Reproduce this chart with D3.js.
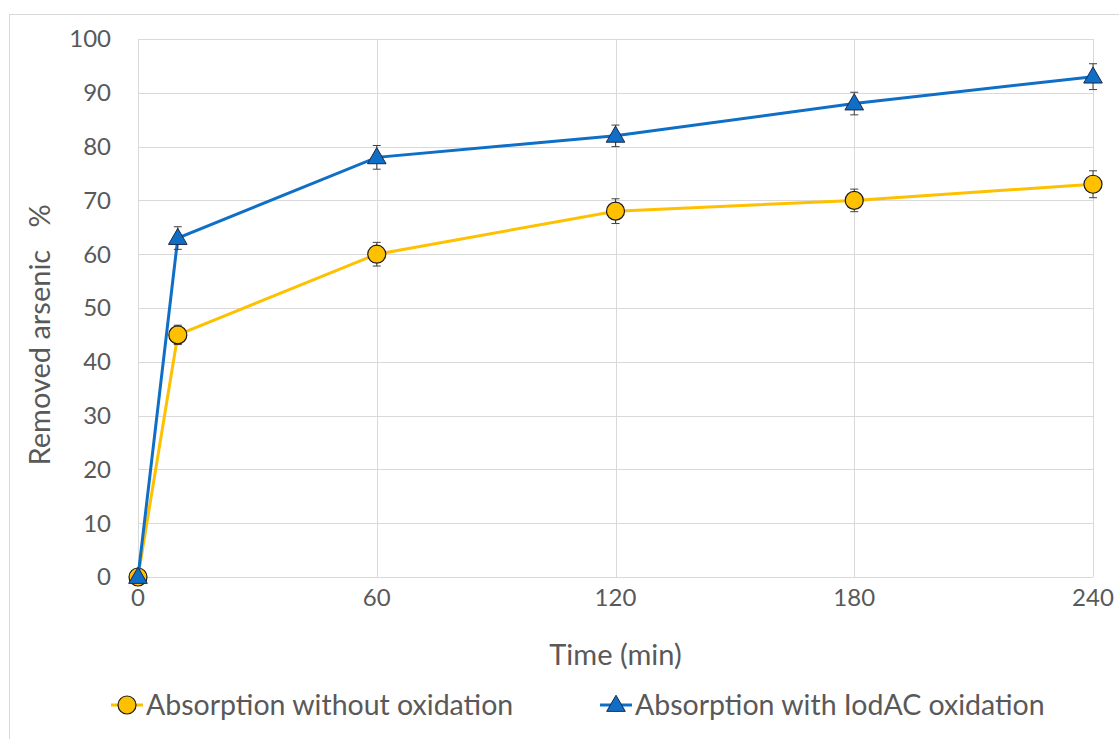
<!DOCTYPE html>
<meta charset="utf-8">
<style>
    body { margin: 0; background: #fff; }
    text { font-family: Lato, "Noto Sans", sans-serif; fill: #595959; }
</style>
<svg width="1119" height="739"></svg>
<script src="https://d3js.org/d3.v7.min.js"></script>
<script>
    // data
    var times = [0, 10, 60, 120, 180, 240];
    var noOxidation = [0, 45, 60, 68, 70, 73];
    var noOxidationErr = [0, 1.8, 2.2, 2.3, 2.1, 2.5];
    var withOxidation = [0, 63, 78, 82, 88, 93];
    var withOxidationErr = [0, 2.1, 2.2, 2.0, 2.1, 2.4];
    var xTicks = [0, 60, 120, 180, 240];
    var yTicks = [0, 10, 20, 30, 40, 50, 60, 70, 80, 90, 100];

    var svg = d3.select("svg");

    // outer chart frame
    svg.append("rect")
        .attr("x", 9.5).attr("y", 14.5)
        .attr("width", 1130).attr("height", 740)
        .attr("fill", "none").attr("stroke", "#d9d9d9");

    var x = d3.scaleLinear().domain([0, 240]).range([138, 1093]);
    var y = d3.scaleLinear().domain([0, 100]).range([577, 39]);

    // gridlines
    svg.append("g").selectAll("line").data(yTicks).enter().append("line")
        .attr("x1", x(0)).attr("x2", x(240))
        .attr("y1", function(d) { return Math.round(y(d)) + 0.5; })
        .attr("y2", function(d) { return Math.round(y(d)) + 0.5; })
        .attr("stroke", "#d9d9d9").attr("stroke-width", 1);

    svg.append("g").selectAll("line").data(xTicks).enter().append("line")
        .attr("x1", function(d) { return Math.round(x(d)) + 0.5; })
        .attr("x2", function(d) { return Math.round(x(d)) + 0.5; })
        .attr("y1", y(0)).attr("y2", y(100))
        .attr("stroke", "#d9d9d9").attr("stroke-width", 1);

    // tick labels
    svg.append("g").selectAll("text").data(yTicks).enter().append("text")
        .attr("x", 111).attr("y", function(d) { return y(d); })
        .attr("dy", "0.35em")
        .attr("text-anchor", "end")
        .attr("font-size", 24)
        .text(function(d) { return d; });

    svg.append("g").selectAll("text").data(xTicks).enter().append("text")
        .attr("x", function(d) { return x(d); }).attr("y", 598)
        .attr("dy", "0.35em")
        .attr("text-anchor", "middle")
        .attr("font-size", 24)
        .text(function(d) { return d; });

    // axis titles
    svg.append("text")
        .attr("x", x(120)).attr("y", 655)
        .attr("dy", "0.35em")
        .attr("text-anchor", "middle")
        .attr("font-size", 29)
        .text("Time (min)");

    svg.append("text")
        .attr("transform", "translate(40," + y(45) + ") rotate(-90)")
        .attr("dy", "0.35em")
        .attr("text-anchor", "middle")
        .attr("font-size", 29)
        .attr("xml:space", "preserve")
        .text("Removed arsenic   %");

    var series = [
        { name: "Absorption without oxidation", values: noOxidation, err: noOxidationErr, color: "#FFC000", marker: "circle" },
        { name: "Absorption with IodAC oxidation", values: withOxidation, err: withOxidationErr, color: "#0F6FC6", marker: "triangle" }
    ];

    var line = d3.line()
        .x(function(d) { return x(d[0]); })
        .y(function(d) { return y(d[1]); });

    function drawMarker(g, s, cx, cy) {
        if (s.marker === "circle") {
            g.append("circle")
                .attr("cx", cx).attr("cy", cy).attr("r", 9)
                .attr("fill", s.color).attr("stroke", "#1a1a1a").attr("stroke-width", 1.2);
        } else {
            g.append("path")
                .attr("d", d3.symbol().type(d3.symbolTriangle).size(150)())
                .attr("transform", "translate(" + cx + "," + (cy + 1) + ")")
                .attr("fill", s.color).attr("stroke", "#1a2a4a").attr("stroke-width", 1);
        }
    }

    series.forEach(function(s) {
        var pts = times.map(function(t, i) { return [t, s.values[i]]; });
        var g = svg.append("g");

        g.append("path")
            .attr("d", line(pts))
            .attr("fill", "none")
            .attr("stroke", s.color)
            .attr("stroke-width", 3);

        // error bars
        times.forEach(function(t, i) {
            if (!s.err[i]) return;
            var cx = x(t), y1 = y(s.values[i] + s.err[i]), y2 = y(s.values[i] - s.err[i]);
            g.append("line").attr("x1", cx).attr("x2", cx).attr("y1", y1).attr("y2", y2)
                .attr("stroke", "#404040").attr("stroke-width", 1);
            [y1, y2].forEach(function(yy) {
                g.append("line").attr("x1", cx - 4).attr("x2", cx + 4).attr("y1", yy).attr("y2", yy)
                    .attr("stroke", "#404040").attr("stroke-width", 1);
            });
        });

        times.forEach(function(t, i) {
            drawMarker(g, s, x(t), y(s.values[i]));
        });
    });

    // legend
    var legendX = [111, 600];
    series.forEach(function(s, i) {
        var lg = svg.append("g");
        var lx = legendX[i], ly = 705;
        lg.append("line")
            .attr("x1", lx).attr("x2", lx + 32).attr("y1", ly).attr("y2", ly)
            .attr("stroke", s.color).attr("stroke-width", 3);
        drawMarker(lg, s, lx + 16, ly);
        lg.append("text")
            .attr("x", lx + 35).attr("y", ly)
            .attr("dy", "0.35em")
            .attr("font-size", 28.5)
            .text(s.name);
    });
</script>
